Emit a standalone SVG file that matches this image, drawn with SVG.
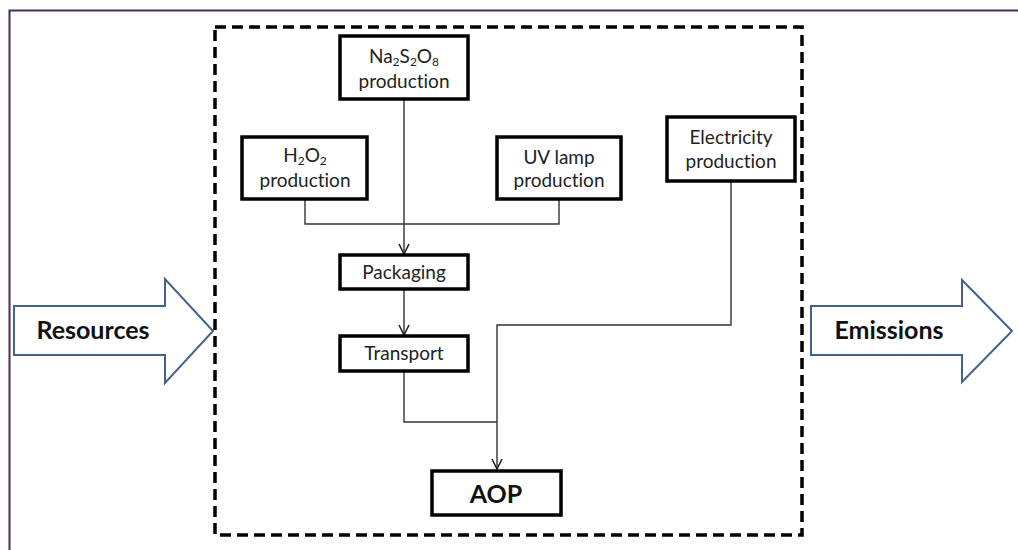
<svg xmlns="http://www.w3.org/2000/svg" width="1018" height="550" viewBox="0 0 1018 550">
<style>
.box{fill:#fff;stroke:#000;stroke-width:3.5}
.t{font-family:Lato,"Open Sans",sans-serif;font-size:19px;fill:#222;text-anchor:middle;font-variant-ligatures:none}
.big{font-family:Lato,"Open Sans",sans-serif;font-weight:bold;font-size:25px;fill:#111;text-anchor:middle;font-variant-ligatures:none}
.c{fill:none;stroke:#333;stroke-width:1.4}
.flow{fill:#fff;stroke:#44638c;stroke-width:2}
.sub{font-size:12px}
</style>
<defs>
<marker id="arr" viewBox="0 0 12 12" refX="11" refY="6" markerWidth="12" markerHeight="12" markerUnits="userSpaceOnUse" orient="auto">
<path d="M1,1 L11,6 L1,11" fill="none" stroke="#222" stroke-width="1.6"/>
</marker>
</defs>
<rect width="1018" height="550" fill="#fff"/>
<path d="M9.5,550 V10.5 H1018" fill="none" stroke="#4a2a5a" stroke-width="2"/>
<rect x="215" y="27" width="587" height="508" fill="none" stroke="#000" stroke-width="3.5" stroke-dasharray="11,6"/>
<g id="connectors">
<path class="c" d="M404,99 V254" marker-end="url(#arr)"/>
<path class="c" d="M305,199 V224 H559 V199"/>
<path class="c" d="M404,289 V335" marker-end="url(#arr)"/>
<path class="c" d="M404,371 V422 H497"/>
<path class="c" d="M731,181 V325 H497 V469" marker-end="url(#arr)"/>
</g>
<g id="resources">
<path class="flow" d="M14,306 H165 V279 L213,331 L165,383 V355 H14 Z"/>
<text class="big" x="93" y="339">Resources</text>
</g>
<g id="emissions">
<path class="flow" d="M811,306 H962 V280 L1012,331 L962,382 V355 H811 Z"/>
<text class="big" x="889" y="339" font-size="24">Emissions</text>
</g>
<g id="na2s2o8">
<rect class="box" x="340" y="36" width="128" height="63"/>
<text class="t" x="404" y="63">Na<tspan class="sub" dy="3">2</tspan><tspan dy="-3">S</tspan><tspan class="sub" dy="3">2</tspan><tspan dy="-3">O</tspan><tspan class="sub" dy="3">8</tspan></text>
<text class="t" x="404" y="88">production</text>
</g>
<g id="h2o2">
<rect class="box" x="242" y="137" width="125" height="62"/>
<text class="t" x="305" y="162">H<tspan class="sub" dy="3">2</tspan><tspan dy="-3">O</tspan><tspan class="sub" dy="3">2</tspan></text>
<text class="t" x="305" y="187">production</text>
</g>
<g id="uvlamp">
<rect class="box" x="497" y="137" width="124" height="62"/>
<text class="t" x="559" y="164">UV lamp</text>
<text class="t" x="559" y="187">production</text>
</g>
<g id="electricity">
<rect class="box" x="667" y="117" width="128" height="64"/>
<text class="t" x="731" y="144">Electricity</text>
<text class="t" x="731" y="168">production</text>
</g>
<g id="packaging">
<rect class="box" x="340" y="255" width="128" height="34"/>
<text class="t" x="404" y="279">Packaging</text>
</g>
<g id="transport">
<rect class="box" x="340" y="336" width="128" height="35"/>
<text class="t" x="404" y="360">Transport</text>
</g>
<g id="aop">
<rect class="box" x="432" y="471" width="129" height="44"/>
<text class="big" x="496" y="503">AOP</text>
</g>
</svg>
